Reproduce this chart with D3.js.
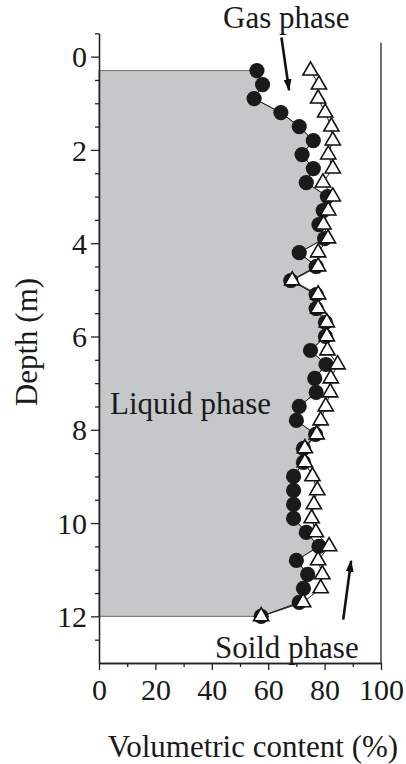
<!DOCTYPE html>
<html>
<head>
<meta charset="utf-8">
<script src="https://cdn.jsdelivr.net/npm/d3@7"></script>
<style>
  body { margin: 0; background: #fff; }
  text { font-family: "Liberation Serif", "Times New Roman", serif; fill: #1a1a1a; }
</style>
</head>
<body>
<div id="viz"></div>
<script>
// depth of each sample (m)
var depth = [0.3, 0.6, 0.9, 1.2, 1.5, 1.8, 2.1, 2.4, 2.7, 3.0,
             3.3, 3.6, 3.9, 4.2, 4.5, 4.8, 5.1, 5.4, 5.7, 6.0,
             6.3, 6.6, 6.9, 7.2, 7.5, 7.8, 8.1, 8.4, 8.7, 9.0,
             9.3, 9.6, 9.9, 10.2, 10.5, 10.8, 11.1, 11.4, 11.7, 12.0]

// liquid phase content (%) - filled circles
var liquid = [56, 58, 55, 64.5, 71, 76, 72, 76, 73.5, 81,
              79.5, 78, 80, 71, 77, 68, 77, 77, 80.3, 80.3,
              75, 80.5, 76.5, 77, 71, 70, 76.8, 72.5, 72.5, 69,
              69, 69, 69, 73.5, 78, 70, 74, 72.5, 71, 57.5]

// liquid + gas content (%) - open triangles
var total = [75, 78, 77.7, 80.2, 82.4, 82.9, 81.3, 82.9, 79.4, 82.9,
             81.3, 79.6, 81.2, 77.7, 77.7, 68.5, 77.7, 77.7, 80.8, 80.8,
             81, 84.6, 82.2, 82, 80.4, 78.6, 77.2, 73, 73, 75.7,
             77.4, 76.2, 75.4, 76.9, 81.6, 77.7, 79.2, 78.6, 72.4, 57.5]

var xMajor = [0, 20, 40, 60, 80, 100]
var xMinor = [10, 30, 50, 70, 90]
var yMajor = [0, 2, 4, 6, 8, 10, 12]
var yMinor = [-0.5, 0.5, 1, 1.5, 2.5, 3, 3.5, 4.5, 5, 5.5, 6.5, 7, 7.5, 8.5, 9, 9.5, 10.5, 11, 11.5, 12.5]

var w = 406, h = 764

var svg = d3.select('#viz')
            .append('svg')
            .attr('width', w)
            .attr('height', h)

var x = d3.scaleLinear().domain([0, 100]).range([99, 381])
var y = d3.scaleLinear().domain([-0.5, 13]).range([33.3, 663])

var pts = depth.map((d, i) => ({d: d, liq: liquid[i], tot: total[i]}))

// gray liquid area
var area = d3.area()
  .y(p => y(p.d))
  .x0(x(0))
  .x1(p => x(p.liq))

svg.append('path')
  .datum(pts)
  .attr('d', area)
  .attr('fill', '#c6c7c9')
  .attr('stroke', '#6b6b6b')
  .attr('stroke-width', 1)

// right frame line
svg.append('line')
  .attr('x1', x(100)).attr('x2', x(100))
  .attr('y1', y(-0.3)).attr('y2', y(13))
  .attr('stroke', '#222')
  .attr('stroke-width', 1.3)

// axes
function styleAxis(g) {
  g.select('.domain').attr('stroke', '#222').attr('stroke-width', 1.3)
  g.selectAll('.tick line').attr('stroke', '#222').attr('stroke-width', 1.3)
  g.selectAll('text').style('font-size', '30px').attr('fill', '#1a1a1a')
}

svg.append('g')
  .attr('transform', 'translate(0,' + y(13) + ')')
  .call(d3.axisBottom(x).tickValues(xMinor).tickSize(4).tickFormat('').tickSizeOuter(0))
  .call(styleAxis)

svg.append('g')
  .attr('transform', 'translate(0,' + y(13) + ')')
  .call(d3.axisBottom(x).tickValues(xMajor).tickSize(7).tickSizeOuter(0))
  .call(styleAxis)
  .call(g => g.selectAll('text').attr('y', 37).attr('dy', 0))

svg.append('g')
  .attr('transform', 'translate(' + x(0) + ',0)')
  .call(d3.axisLeft(y).tickValues(yMinor).tickSize(4).tickFormat('').tickSizeOuter(0))
  .call(styleAxis)

svg.append('g')
  .attr('transform', 'translate(' + x(0) + ',0)')
  .call(d3.axisLeft(y).tickValues(yMajor).tickSize(8).tickSizeOuter(0))
  .call(styleAxis)
  .call(g => g.selectAll('text').attr('x', -12).attr('dy', '0.34em'))

// liquid line + circles
var line = d3.line().y(p => y(p.d))

svg.append('path')
  .datum(pts)
  .attr('d', line.x(p => x(p.liq)))
  .attr('fill', 'none')
  .attr('stroke', '#222')
  .attr('stroke-width', 1)

svg.append('g')
  .selectAll('circle')
  .data(pts)
  .enter()
  .append('circle')
  .attr('cx', p => x(p.liq))
  .attr('cy', p => y(p.d))
  .attr('r', 7.6)
  .attr('fill', '#1a1a1a')

// total line + triangles
svg.append('path')
  .datum(pts)
  .attr('d', d3.line().y(p => y(p.d)).x(p => x(p.tot)))
  .attr('fill', 'none')
  .attr('stroke', '#222')
  .attr('stroke-width', 1)

var tri = d3.symbol().type(d3.symbolTriangle).size(100)

svg.append('g')
  .selectAll('path')
  .data(pts)
  .enter()
  .append('path')
  .attr('d', tri)
  .attr('transform', p => 'translate(' + x(p.tot) + ',' + y(p.d) + ')')
  .attr('fill', '#fff')
  .attr('stroke', '#111')
  .attr('stroke-width', 1.6)

// annotations
var defs = svg.append('defs')
defs.append('marker')
  .attr('id', 'head')
  .attr('viewBox', '0 0 12 8')
  .attr('refX', 11).attr('refY', 4)
  .attr('markerWidth', 12).attr('markerHeight', 8)
  .attr('markerUnits', 'userSpaceOnUse')
  .attr('orient', 'auto')
  .append('path')
  .attr('d', 'M0,0L12,4L0,8Z')
  .attr('fill', '#111')

var arrows = [
  {from: [64.7, -0.41], to: [67.4, 0.72]},
  {from: [86.6, 12.07], to: [89.4, 10.81]}
]

svg.append('g')
  .selectAll('line')
  .data(arrows)
  .enter()
  .append('line')
  .attr('x1', a => x(a.from[0])).attr('y1', a => y(a.from[1]))
  .attr('x2', a => x(a.to[0])).attr('y2', a => y(a.to[1]))
  .attr('stroke', '#111')
  .attr('stroke-width', 2.6)
  .attr('marker-end', 'url(#head)')

var labels = [
  {t: 'Gas phase', v: 44, d: -0.61},
  {t: 'Liquid phase', v: 3.9, d: 7.66},
  {t: 'Soild phase', v: 41.1, d: 12.89}
]

svg.append('g')
  .selectAll('text')
  .data(labels)
  .enter()
  .append('text')
  .attr('x', l => x(l.v))
  .attr('y', l => y(l.d))
  .style('font-size', '31px')
  .text(l => l.t)

// axis titles
svg.append('text')
  .attr('x', 253)
  .attr('y', 757)
  .attr('text-anchor', 'middle')
  .style('font-size', '31px')
  .text('Volumetric content (%)')

svg.append('text')
  .attr('transform', 'translate(37,342) rotate(-90)')
  .attr('text-anchor', 'middle')
  .style('font-size', '31px')
  .text('Depth (m)')
</script>
</body>
</html>
